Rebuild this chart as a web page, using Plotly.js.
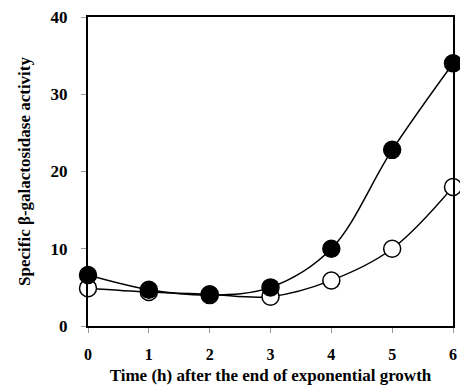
<!DOCTYPE html>
<html><head><meta charset="utf-8">
<script src="https://cdn.plot.ly/plotly-3.0.1.min.js"></script>
<style>html,body{margin:0;padding:0;background:#fff}#chart{width:460px;height:387px}</style>
</head><body><div id="chart"></div>
<script>
const hours = [0, 1, 2, 3, 4, 5, 6];
const filledSeries = [6.6, 4.7, 4.0, 5.0, 10.0, 22.8, 34.0];
const openSeries = [4.9, 4.4, 4.1, 3.8, 5.9, 10.0, 18.0];
const xTickVals = [0, 1, 2, 3, 4, 5, 6];
const yTickVals = [0, 10, 20, 30, 40];

const font = 'Liberation Serif, Times New Roman, serif';
const traces = [
  {x: hours, y: openSeries, mode: 'lines+markers', cliponaxis: false,
   line: {color: '#000', width: 1.5, shape: 'spline', smoothing: 1},
   marker: {size: 17, color: '#fff', line: {color: '#000', width: 1.5}}},
  {x: hours, y: filledSeries, mode: 'lines+markers', cliponaxis: false,
   line: {color: '#000', width: 1.5, shape: 'spline', smoothing: 1},
   marker: {size: 17, color: '#000', line: {color: '#000', width: 1.5}}}
];
const layout = {
  width: 460, height: 387,
  margin: {l: 88, r: 7, t: 17, b: 61},
  showlegend: false,
  paper_bgcolor: '#fff', plot_bgcolor: '#fff',
  font: {family: font, color: '#000'},
  xaxis: {range: [0, 6], tickvals: xTickVals, ticks: 'outside', ticklen: 5, tickcolor: '#999',
    showgrid: false, zeroline: false, showline: true, linecolor: '#000', linewidth: 2, mirror: true,
    ticklabelstandoff: 8,
    tickfont: {family: font, size: 16, weight: 'bold'},
    title: {text: 'Time (h) after the end of exponential growth', standoff: 7,
      font: {family: font, size: 17, weight: 'bold'}}},
  yaxis: {range: [0, 40], tickvals: yTickVals, ticks: 'outside', ticklen: 5, tickcolor: '#999',
    showgrid: false, zeroline: false, showline: true, linecolor: '#000', linewidth: 2, mirror: true,
    ticklabelstandoff: 10,
    tickfont: {family: font, size: 17, weight: 'bold'},
    title: {text: 'Specific β-galactosidase activity', standoff: 16,
      font: {family: font, size: 17, weight: 'bold'}}}
};
Plotly.newPlot('chart', traces, layout, {displayModeBar: false, staticPlot: true});
</script></body></html>
